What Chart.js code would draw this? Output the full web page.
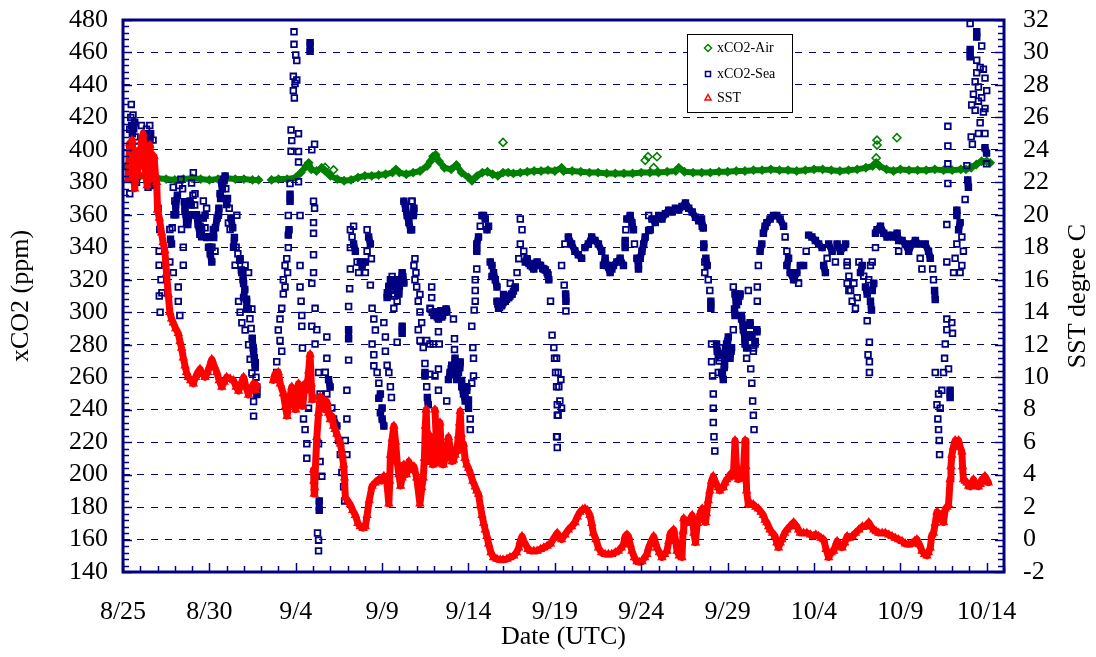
<!DOCTYPE html>
<html>
<head>
<meta charset="utf-8">
<script src="https://cdn.jsdelivr.net/npm/chart.js@4.4.1/dist/chart.umd.min.js"></script>
<style>
  html, body { margin: 0; padding: 0; background: #fff; overflow: hidden; }
  canvas { display: block; }
</style>
</head>
<body>
<canvas id="c" width="1096" height="657"></canvas>
<script>
// ---------- DATA (x = days since 8/25 00:00 UTC) ----------
const TICK_DAYS   = [0, 5, 10, 15, 20, 25, 30, 35, 40, 45, 50];
const TICK_LABELS = ['8/25','8/30','9/4','9/9','9/14','9/19','9/24','9/29','10/4','10/9','10/14'];

// xCO2-Air (ppm)
const AIR = [
  [0.2,390],[0.5,386],[1.0,384],[1.5,383],[2.0,382.5],[2.5,382],[3.0,381.5],[3.5,382],[4.0,382.5],[4.5,382],
  [5.0,381.5],[5.5,382],[6.0,382.5],[6.5,382],[7.0,382],[7.5,381.5],[7.85,381.5],
  [8.6,381.5],[9.0,382],[9.5,382],[10.0,383],[10.3,386],[10.6,390],[10.75,392],[10.9,388],[11.2,387],[11.5,389],
  [11.7,387],[12.0,384],[12.4,382],[12.8,381],[13.2,381.5],[13.6,383],[14.0,384],[14.4,384],[14.8,384.5],
  [15.2,385],[15.6,386],[15.8,388],[16.0,386],[16.4,385],[16.8,386],[17.2,387],[17.6,390],[17.8,393],[17.95,396],
  [18.1,397],[18.3,393],[18.6,389],[19.0,388],[19.3,390.7],[19.6,386],[20.0,383],[20.2,381],[20.5,384],
  [20.8,386],[21.1,386.5],[21.4,385],[21.7,384],[22.0,386],[22.3,386],[22.6,385.5],[23.0,386],[23.4,386.5],
  [23.8,387],[24.2,387],[24.6,387.5],[25.0,387],[25.39,389],[25.5,387],[26.0,387],[26.5,386.5],[27.0,386],
  [27.5,386],[28.0,385.5],[28.5,385.5],[29.0,385.5],[29.5,385.5],[30.0,386],[30.5,386],[31.0,386],[31.5,386.5],
  [32.0,387],[32.17,389],[32.5,386.5],[33.0,386],[33.5,386],[34.0,386],[34.5,386.5],[35.0,386.5],[35.5,387],
  [36.0,387],[36.5,387.5],[37.0,387.5],[37.5,388],[38.0,387.5],[38.5,387.5],[39.0,387],[39.5,387.5],[40.0,388],
  [40.5,388],[41.0,387.5],[41.5,387],[42.0,387.5],[42.5,388],[43.0,389],[43.4,390],[43.6,392],[43.8,390],
  [44.2,388],[44.6,387],[45.0,388],[45.5,387.5],[46.0,387.5],[46.5,387.5],[47.0,388],[47.5,387.5],[48.0,387.5],
  [48.5,388],[48.8,388],[49.1,389],[49.4,391],[49.7,393],[50.0,393],[50.2,392]
];
// isolated xCO2-Air readings
const AIR_OUTLIERS = [
  [11.7,389.2],[12.19,387.7],[22.0,404.6],[30.23,393.6],[30.39,395.8],[30.91,395.8],[30.72,389],
  [43.65,406],[43.65,403],[43.6,395],[44.8,407.5]
];

// xCO2-Sea (ppm)
const SEA = [
  [0.39,373],[0.39,412.7],[0.48,428],[0.54,410],[0.58,421.5],[0.68,417],[0.78,380],[0.9,395],[1.07,415],[1.2,408],
  [1.36,412.7],[1.45,377],[1.55,415],[1.56,406],[1.65,382],[1.74,406],[1.7,378],
  [0.45,420],[0.5,415],[0.62,413],[0.7,408],[0.85,402],[0.95,398],[1.1,405],[1.25,410],[1.3,404],[1.45,400],[1.6,410],
  [2.03,364],[2.09,337.6],[2.09,329],[2.13,351],[2.15,300],[2.1,310],[2.2,320],[2.25,312],[2.71,351],[2.71,331],
  [2.81,342],[2.91,377],[2.91,324.4],[3.0,368.5],[3.05,360],[3.2,315.5],[3.2,306.7],[3.29,298],[3.39,351],
  [3.49,340],[3.49,329],[3.59,362],[3.68,355],[3.88,368.5],[3.97,379.6],[4.07,386],[4.17,373],[4.26,359.7],
  [4.46,353],[4.55,346.5],[4.65,368.5],[4.75,359.7],[4.84,364],[4.88,346.5],[5.04,340],[5.14,331],[5.23,351],
  [5.33,337.6],[5.52,359.7],[5.62,373],[5.72,379.6],[5.81,382],[5.91,384],[6.0,366.3],[6.1,355],[6.2,351],
  [6.4,340],[6.49,329],[6.59,359.7],[6.69,306.7],[6.78,333],[6.78,300],[6.88,324.4],[6.88,293.5],[6.98,317.7],
  [6.98,309],[7.07,329],[7.07,289],[7.17,302],[7.27,324.4],[7.27,280],[7.36,271],[7.46,302],[7.46,262.6],
  [7.56,275.8],[7.56,245],[7.56,236],[7.66,269],[7.75,249.3],
  [2.75,345],[2.85,352],[2.95,360],[3.05,366],[3.15,372],[3.25,378],[3.35,382],[3.45,376],[3.55,368],[3.65,360],
  [3.75,354],[3.85,360],[3.95,366],[4.05,372],[4.15,366],[4.25,360],[4.35,354],[4.45,348],[4.55,352],[4.65,358],
  [4.75,352],[4.85,346],[4.95,340],[5.05,336],[5.15,340],[5.25,346],[5.35,352],[5.45,358],[5.55,364],[5.65,370],
  [5.75,376],[5.85,381],[5.95,376],[6.05,370],[6.15,364],[6.25,358],[6.35,352],[6.45,346],[6.55,340],[6.65,336],
  [6.75,332],[6.85,326],[6.95,320],[7.05,314],[7.15,308],[7.25,302],[7.35,296],[7.42,290],[7.48,284],[7.54,278],
  [7.6,272],[7.65,266],[7.7,260],[7.75,254],
  [8.9,269.5],[8.9,262.9],[8.99,289],[9.09,295.8],[9.19,302.4],[9.28,311.2],[9.09,282.6],[9.19,276],[9.28,320],
  [9.38,328.8],[9.48,333],[9.57,339.8],[9.38,315.6],[9.53,324.4],[9.57,359.6],[9.61,350.8],[9.57,347.5],
  [9.67,379.3],[9.67,372.7],[9.67,368.4],[9.73,412.3],[9.77,405.7],[9.73,399.1],[10.16,410],[10.16,399],
  [10.16,392.5],[9.86,445.3],[9.96,440.9],[9.86,436.5],[10.06,443],[9.92,432],[9.9,472.7],[9.9,465],[10.0,458.5],
  [10.06,455],[10.16,380.4],[10.25,359.6],[10.25,315.6],[10.31,306.8],[10.35,298],[10.35,291.4],[10.39,278],
  [10.25,328.8],[10.45,234.3],[10.54,227.7],[10.64,219],[10.64,210],[10.74,240.9],[10.83,466],[10.83,460.7],
  [10.93,400],[11.09,403.5],[11.03,368.4],[11.09,364],[11.03,355.2],[11.03,348.6],[11.03,335.4],[11.03,324.4],
  [10.93,317.8],[11.12,302.4],[11.22,289.2],[11.12,280.4],[10.93,291.4],[11.32,262.9],[11.41,249.7],[11.61,243],
  [11.8,249.7],[11.99,254],[12.09,241],[12.19,234.3],[11.8,284.8],[11.8,271.6],[11.71,263],[11.9,258.5],
  [11.32,219],[11.41,208],[11.51,199],[11.36,183.7],[11.36,178],[11.26,164],[11.32,159.6],[11.32,153],
  [12.38,229.9],[12.48,221],[12.58,212.3],[12.67,201.3],[12.77,192.5],[12.83,183.7],[12.87,221],[12.96,212.3],
  [12.96,251.9],[12.96,234.3],[13.06,303.5],[13.06,289.2],[13.06,283.7],[13.06,270.5],[13.12,314.5],[13.16,326.6],
  [13.16,350.8],[13.26,346.4],[13.35,353],[13.35,342],[13.45,337.6],[13.55,331],[13.64,324.4],[13.16,339.8],
  [13.74,331],[13.84,328.8],[14.03,331],[14.03,324.4],[14.13,350.8],[14.22,346.4],[14.32,342],[14.13,337.6],
  [14.38,333],[14.32,316.7],[14.42,302.4],[14.52,295.8],[14.61,289],[14.42,280.4],[14.52,273.8],[14.52,267],
  [14.71,262.9],[14.81,256.3],[14.9,249.7],[15.0,241],[15.0,234.3],[15.1,229.9],[14.81,247],[14.9,238],
  [15.1,293.6],[15.19,284.8],[15.19,276],[15.29,267.3],[15.39,262.9],[15.48,254.1],[15.54,247.5],[15.29,309],
  [15.39,315.6],[15.48,320],[15.58,311.2],[15.68,302.4],[15.77,320],[15.87,315.6],[15.97,311.2],[16.07,320],
  [16.16,324.4],[16.26,318],[15.87,306.8],[15.58,322],[15.87,281.5],[16.16,291.4],[16.16,287],[16.26,368.4],
  [16.36,364],[16.45,359.6],[16.55,355.2],[16.65,350.8],[16.74,368.4],[16.84,364],[16.65,359.6],[16.84,328.8],
  [16.9,320],
  [15.3,312],[15.4,316],[15.5,318],[15.6,314],[15.7,310],[15.8,316],[15.9,312],[16.0,316],[16.1,320],[16.2,322],
  [16.71,368.4],[16.8,359.6],[16.71,350.8],[16.9,333],[16.96,324.4],[17.0,315.6],[17.09,306.8],[17.19,300.2],
  [17.29,293.6],[17.09,289.2],[17.19,282.6],[17.38,278.2],[17.48,268.4],[17.19,311],[17.48,260.7],[17.58,254.1],
  [17.62,247.5],[17.67,243],[17.77,302.4],[17.87,315.6],[17.87,309],[18.06,300.2],[18.16,298],[18.26,295.8],
  [18.35,300.2],[18.45,297],[18.55,300.2],[18.74,300.2],[19.13,295.8],[18.26,288],[17.58,282.6],[17.77,280.4],
  [17.96,280.4],[18.31,280.4],[17.48,262.9],[17.77,261.8],[18.06,260.7],[18.26,265],[18.26,251.9],[18.74,245.3],
  [18.93,262.9],[18.84,258.5],[19.03,267.3],[19.13,262.9],[19.22,271.6],[19.32,258.5],[19.42,262.9],[19.52,269.4],
  [19.61,254.1],[19.71,249.7],[19.81,245.3],[19.9,254.1],[20.0,240.9],[20.1,234.3],[20.1,227.7],[20.19,256.3],
  [20.29,260.7],[19.19,283.7],[19.19,277],[20.19,291.4],[20.25,278.2],[20.29,271.6],[20.39,320],[20.39,313.4],
  [17.8,302],[17.9,300],[18.0,298],[18.1,300],[18.2,297],[18.3,299],[18.4,301],[18.5,298],[18.6,300],[18.7,302],
  [19.0,265],[19.1,262],[19.2,266],[19.3,261],[19.4,264],[19.5,266],[19.6,258],[19.7,252],[19.8,248],[19.9,252],[20.0,246],
  [20.39,306.8],[20.33,301.3],[20.48,326.6],[20.48,337.6],[20.58,346.4],[20.68,353],[20.78,359.6],[20.87,359.6],
  [20.97,357.4],[21.07,350.8],[21.16,353],[20.48,342],[21.26,331],[21.36,328.8],[21.45,324.4],[21.55,320],
  [21.36,322],[21.65,315.6],[21.65,306.8],[21.74,302.4],[21.94,304.6],[22.13,306.8],[22.33,309],[22.52,311.2],
  [22.71,315.6],[22.03,311],[22.42,317.8],[23.0,357.4],[23.1,350.8],[23.0,342],[23.2,337.6],[22.91,333],
  [21.7,305],[21.8,303],[21.9,304],[22.0,306],[22.1,307],[22.2,308],[22.3,309],[22.4,310],[22.5,311],[22.6,313],[22.7,315],
  [22.81,324.4],[23.29,331],[23.39,333],[23.59,328.8],[23.78,326.6],[23.97,331],[24.17,328.8],[24.36,326.6],
  [23.4,332],[23.5,330],[23.7,328],[23.9,330],[24.0,329],[24.1,329],[24.3,327],[24.45,326],[24.6,323],
  [24.55,324.4],[24.65,320],[24.75,306.8],[24.84,285.9],[24.94,278.2],[24.98,271.6],[25.04,262.9],[25.1,254.1],
  [25.14,243],[25.14,236.5],[25.14,223.3],[25.14,216.7],
  [25.1,271.6],[25.19,262.9],[25.23,254.1],[25.29,245.3],[25.19,236.5],[25.1,223.3],[25.39,240.9],[25.35,258.5],
  [25.54,316.7],[25.62,311.2],[25.64,306.8],[25.64,300.7],[25.39,328.8],[25.58,342],[25.78,346.4],[25.97,342],
  [26.16,337.6],[26.36,335.4],[26.55,333.2],[26.74,339.8],[26.94,342],[27.13,346.4],[27.32,344.2],[27.52,342],
  [27.71,337.6],[27.91,333.2],[27.81,329],[28.0,328.8],[28.2,324.4],[28.39,328.8],[28.59,331],[28.78,333.2],
  [28.97,328.8],[28.3,326.6],[29.07,339.8],[29.11,350.8],[29.17,357.4],[29.36,359.6],[29.46,355.2],[29.55,350.8],
  [29.07,344.2],[29.61,342],[29.75,333.2],[29.84,328.8],[29.94,333.2],[30.04,337.6],[30.14,342],[30.23,346.4],
  [29.84,326.6],[30.43,359.6],[30.52,350.8],[30.43,350.3],[30.62,357.4],[30.81,355.2],[31.01,359.6],[31.2,357.4],
  [31.4,360.7],[31.59,362.9],[31.78,361.8],[31.98,364],[32.17,362.9],[32.36,365.1],[32.56,367.3],[32.75,364],
  [32.95,361.8],[33.14,358.5],[33.33,356.3],[33.53,353],[33.62,339.8],[33.68,331],[33.68,324.4],
  [33.49,357.4],[33.59,351.9],[33.62,342],[33.74,333.2],[33.82,328.8],[33.88,320],[33.97,313.4],[34.03,306.8],
  [34.03,302.4],[34.07,280.4],[34.07,269.5],[34.13,260.7],[34.17,249.7],[34.17,240.9],[34.17,232.1],[34.21,223.3],
  [34.26,214.5],[34.36,280.4],[34.46,273.8],[34.55,278.2],[34.65,262.9],[34.75,258.5],[34.84,271.6],[34.94,280.4],
  [35.04,284.8],[35.14,271.6],[35.23,278.2],[34.46,262.9],[35.33,315.6],[35.33,289.2],[35.43,298],[35.52,304.6],
  [34.4,276],[34.5,270],[34.6,272],[34.7,262],[34.8,266],[34.9,276],[35.0,282],[35.1,276],[35.2,276],
  [35.4,302],[35.5,306],[35.6,308],[35.7,310],[35.8,298],[35.9,292],[36.0,284],[36.1,278],[36.2,286],[36.3,292],
  [36.4,286],[36.5,278],[36.6,282],[36.7,288],
  [35.62,306.8],[35.72,311.2],[35.43,311.2],[35.81,295.8],[35.91,289.2],[36.01,280.4],[36.1,271.6],[36.2,284.8],
  [36.3,293.6],[36.39,284.8],[36.49,276],[36.69,289.2],[36.59,280.4],[36.2,313.4],[36.72,315.6],[36.72,306.8],
  [36.34,265.1],[36.4,256.3],[36.45,245.3],[36.49,236.5],[36.53,227.7],[36.78,328.8],[36.88,337.6],[36.98,342],
  [37.07,348.6],[37.17,353],[37.27,355.2],[37.46,357.4],[37.66,359.6],[37.85,359.6],[38.04,357.4],[38.24,353],
  [38.33,346.4],[38.43,337.6],[38.43,328.8],[38.53,333.2],[38.62,324.4],[38.82,320],[39.01,324.4],[39.21,328.8],
  [39.11,317.8],[39.4,328.8],[39.55,337.6],[39.69,347.5],[39.88,346.4],[40.08,344.2],[40.27,342],[40.47,339.8],
  [40.56,328.8],[40.76,333.2],[40.85,342],[41.05,337.6],[41.24,331],[41.34,342],[41.53,337.6],[41.72,339.8],
  [41.92,328.8],[41.92,317.8],[42.02,313.4],[40.66,324.4],
  [41.83,342],[41.92,331],[42.02,322.2],[42.12,313.4],[42.21,306.8],[42.4,302.4],[42.31,317.8],[42.5,309],
  [42.6,331],[42.69,324.4],[42.79,328.8],[42.88,322.2],[42.98,315.6],[43.08,311.2],[43.17,320],[43.27,328.8],
  [43.37,331],[43.46,317.8],[43.37,313.4],[43.27,306.8],[43.33,301.3],[43.08,294.7],[43.21,281.5],[43.13,273.8],
  [43.21,269.5],[43.21,262.9],[43.56,339.8],[43.56,348.6],[43.65,350.8],[43.85,353],[44.04,348.6],[44.23,346.4],
  [44.42,347.5],[44.62,346.4],[44.81,348.6],[44.9,344.2],[44.9,337.6],[45.1,344.2],[45.29,342],[45.48,337.6],
  [45.67,342],[45.87,344.2],[46.06,342],[46.15,333.2],[46.25,326.6],[46.44,342],[46.63,337.6],[46.73,333.2],
  [46.87,326.6],[46.92,320],[46.98,313.4],[47.02,307.9],[47.02,262.9],[47.12,243],[47.17,234.3],[47.21,227.7],
  [47.25,221],[47.27,212.3],[47.31,240.9],[47.4,251.9],[47.5,262.9],[47.56,271.6],[47.6,280.4],[47.69,289.2],
  [47.69,295.8],[47.79,265.1],[47.88,251.9],[47.88,247.5],[47.98,293.6],[48.02,287],[47.21,249.7],[47.69,331],
  [47.69,354],[47.75,379.3],[47.75,391.4],[47.75,402.4],[47.75,414.5],[48.08,324.4],[48.17,333.2],[48.27,342],
  [48.37,350.8],[48.27,359.6],[48.46,355.2],[48.56,346.4],[48.65,337.6],[48.56,328.8],[48.27,362.9],[48.46,324.4],
  [48.75,369.5],[48.85,390.3],[48.9,381.5],[48.94,377],[49.1,408],[49.17,403.5],[49.04,477.8],[49.42,472.7],
  [49.42,469.5],[49.71,464],[49.04,461.8],[49.04,457.4],[49.42,455.2],[49.62,450.8],[49.81,449.7],[49.9,444.2],
  [49.33,442],[49.23,434.3],[49.52,438.7],[49.71,432.1],[49.9,425.5],[49.33,424.4],[49.62,416.7],[49.52,410.1],
  [49.9,410.1],[49.9,401.3],[49.99,398],[49.99,391.4],[49.81,423.3],[50.0,436.5],[49.52,430],[49.13,427.7],
  [49.42,447.5]
];

// SST (degree C)
const SST = [
  [0.30,22.2],[0.38,24.4],[0.45,23.0],[0.52,24.6],[0.60,22.6],[0.68,21.6],[0.76,23.4],[0.84,22.4],[0.92,24.0],
  [1.00,23.0],[1.08,24.6],[1.16,25.0],[1.24,23.6],[1.32,22.4],[1.40,21.8],[1.48,23.2],[1.56,24.3],[1.64,23.0],
  [1.72,22.2],[1.80,23.6],[1.88,22.4],[1.95,22.0],
  [2.00,20.3],[2.1,19.8],[2.23,18.9],[2.32,18.3],[2.42,17.8],[2.52,16.4],[2.62,15.1],[2.71,14.0],[2.81,13.6],
  [2.91,13.35],[3.05,13.0],[3.2,12.7],[3.3,12.2],[3.39,11.8],[3.49,11.2],[3.59,10.7],[3.68,10.3],[3.78,10.0],
  [3.92,9.8],[4.07,9.6],[4.2,10.0],[4.33,10.3],[4.46,10.5],[4.6,10.2],[4.75,10.0],[4.9,10.3],[5.02,10.7],
  [5.14,11.1],[5.28,10.7],[5.43,10.3],[5.57,9.8],[5.72,9.4],[5.86,9.7],[6.0,10.0],[6.2,9.9],[6.4,9.8],
  [6.55,9.4],[6.69,9.15],[6.84,9.6],[6.98,10.0],[7.12,9.4],[7.27,8.9],[7.42,9.3],[7.56,9.6],[7.66,9.2],[7.75,9.5],
  [8.70,9.8],[8.8,10.2],[8.99,10.3],[9.1,9.6],[9.28,9.0],[9.4,8.2],[9.5,7.6],[9.6,8.4],[9.77,9.4],[9.9,8.6],
  [10.0,8.0],[10.16,9.6],[10.3,8.8],[10.4,8.2],[10.54,9.6],[10.65,9.2],[10.75,10.4],[10.83,11.4],[10.9,9.6],
  [10.95,8.6],[11.0,8.8],[11.03,4.3],[11.05,3.6],[11.07,2.8],[11.1,3.2],[11.12,4.0],[11.22,6.3],[11.32,7.8],
  [11.41,8.8],[11.5,8.2],[11.6,8.6],[11.7,8.0],[11.8,8.5],[11.9,7.8],[12.0,7.4],[12.1,7.6],[12.19,7.0],
  [12.28,6.8],[12.38,6.5],[12.48,6.2],[12.58,5.9],[12.68,5.3],[12.77,4.6],[12.82,3.8],[12.87,2.6],[13.0,2.4],
  [13.16,2.15],[13.3,1.8],[13.45,1.5],[13.6,1.0],[13.74,0.8],[13.9,0.7],[14.03,0.8],[14.13,1.5],[14.25,2.4],
  [14.42,3.3],[14.6,3.5],[14.81,3.7],[14.95,3.6],[15.1,3.9],[15.25,3.8],[15.39,2.2],[15.44,3.6],[15.48,5.2],
  [15.58,6.2],[15.68,7.0],[15.78,6.0],[15.87,4.8],[15.97,4.0],[16.07,3.3],[16.16,3.8],[16.26,4.6],[16.4,4.0],
  [16.55,4.8],[16.7,4.3],[16.84,4.5],
  [17.0,3.8],[17.19,2.2],[17.3,3.2],[17.38,3.8],[17.45,5.0],[17.5,7.0],[17.55,8.0],[17.62,6.0],[17.7,4.8],
  [17.77,6.4],[17.85,5.2],[17.95,4.6],[18.06,8.0],[18.12,6.5],[18.2,5.0],[18.3,4.7],[18.35,7.2],[18.42,5.5],
  [18.55,4.6],[18.65,5.0],[18.75,5.4],[18.84,6.3],[18.95,5.6],[19.05,4.8],[19.13,4.9],[19.22,5.2],[19.32,5.45],
  [19.42,6.4],[19.48,7.2],[19.52,7.9],[19.58,6.5],[19.65,5.5],[19.71,5.9],[19.8,5.0],[19.9,4.6],[20.0,4.4],
  [20.1,4.1],[20.25,3.6],[20.39,3.25],[20.48,3.0],[20.58,2.8],[20.68,2.1],[20.78,1.5],[20.88,1.0],[20.97,0.6],
  [21.07,0.2],[21.16,-0.26],[21.3,-0.8],[21.45,-1.1],[21.65,-1.2],[21.84,-1.25],[22.0,-1.25],[22.23,-1.2],
  [22.4,-1.1],[22.62,-1.0],[22.78,-0.8],[22.91,-0.5],[23.0,-0.1],[23.1,0.2],[23.2,-0.1],[23.29,-0.26],
  [23.45,-0.6],[23.59,-0.7],[23.78,-0.7],[23.97,-0.7],[24.17,-0.6],[24.36,-0.5],[24.55,-0.4],[24.75,-0.26],
  [24.95,0.1],[25.14,0.4],
  [25.25,0.2],[25.39,0.0],[25.58,0.3],[25.78,0.6],[25.97,0.8],[26.16,1.05],[26.3,1.4],[26.45,1.7],[26.6,1.85],
  [26.74,1.9],[26.88,1.8],[27.03,1.5],[27.13,1.0],[27.23,0.4],[27.38,0.0],[27.52,-0.5],[27.7,-0.8],[27.91,-0.9],
  [28.1,-0.9],[28.29,-0.9],[28.5,-0.8],[28.68,-0.7],[28.85,-0.5],[28.97,-0.3],[29.07,0.2],[29.17,0.3],[29.26,0.2],
  [29.36,-0.3],[29.46,-0.7],[29.6,-1.1],[29.75,-1.36],[29.9,-1.4],[30.04,-1.36],[30.2,-1.1],[30.33,-0.9],
  [30.43,-0.5],[30.52,-0.26],[30.62,0.0],[30.72,0.2],[30.82,-0.2],[30.91,-0.5],[31.05,-0.8],[31.2,-1.1],
  [31.35,-0.9],[31.49,-0.7],[31.6,-0.1],[31.69,0.4],[31.8,0.5],[31.88,0.6],[31.98,0.0],[32.07,-0.7],[32.2,-1.0],
  [32.36,-1.1],[32.42,0.5],[32.46,1.3],[32.6,1.0],[32.75,1.1],[32.85,1.3],[32.95,1.5],[33.05,0.4],[33.14,-0.2],
  [33.24,1.0],[33.33,1.2],[33.43,1.7],[33.53,1.9],[33.62,1.3],
  [33.72,1.05],[33.78,1.6],[33.88,2.4],[33.97,3.0],[34.07,3.6],[34.17,3.9],[34.27,3.6],[34.36,3.4],[34.46,3.2],
  [34.55,3.0],[34.65,3.2],[34.75,3.2],[34.85,3.5],[34.94,3.7],[35.04,3.8],[35.14,4.0],[35.24,3.9],[35.33,3.9],
  [35.43,6.1],[35.5,4.6],[35.62,3.7],[35.72,4.0],[35.81,3.8],[35.91,4.1],[36.01,6.1],[36.06,4.5],[36.1,3.0],
  [36.2,2.15],[36.35,2.2],[36.49,2.15],[36.63,2.0],[36.78,1.9],[36.93,1.7],[37.07,1.5],[37.17,1.2],[37.27,1.05],
  [37.37,0.8],[37.46,0.6],[37.6,0.4],[37.75,0.2],[37.85,-0.2],[37.95,-0.5],[38.05,-0.2],[38.14,0.0],[38.3,0.4],
  [38.43,0.6],[38.6,0.8],[38.82,1.05],[38.92,0.9],[39.01,0.8],[39.11,0.6],[39.21,0.4],[39.4,0.4],[39.59,0.4],
  [39.8,0.3],[39.98,0.2],[40.1,0.3],[40.27,0.2],[40.4,0.1],[40.56,0.0],[40.7,-0.6],[40.85,-1.1],[41.0,-0.8],
  [41.14,-0.7],[41.24,-0.4],[41.34,-0.1],[41.5,-0.3],[41.63,-0.5],[41.78,-0.2],[41.92,0.2],[42.05,0.1],
  [42.21,0.2],[42.4,0.4],[42.6,0.6],[42.8,0.8],[42.98,0.8],[43.17,1.05],[43.3,0.8],[43.46,0.6],[43.6,0.5],
  [43.75,0.4],[43.95,0.4],[44.13,0.4],[44.33,0.3],[44.52,0.2],[44.7,0.1],[44.9,0.0],[45.1,-0.1],[45.29,-0.26],
  [45.48,-0.3],[45.67,-0.26],[45.82,-0.1],[45.96,0.0],[46.1,-0.3],[46.25,-0.7],[46.4,-0.9],[46.54,-1.0],
  [46.63,-0.8],[46.73,-0.5],[46.83,0.3],[46.92,0.4],[47.02,1.0],[47.12,1.7],[47.21,1.6],[47.31,1.5],[47.4,1.2],
  [47.5,1.05],[47.6,1.9],[47.7,2.0],[47.79,2.15],[47.88,3.7],[47.93,4.5],[47.98,5.2],[48.07,5.7],[48.17,6.1],
  [48.27,6.0],[48.37,6.1],[48.46,5.7],[48.56,5.4],[48.6,4.5],[48.65,3.7],[48.75,3.6],[48.85,3.5],[48.95,3.3],
  [49.04,3.25],[49.14,3.5],[49.23,3.7],[49.33,3.5],[49.42,3.3],[49.52,3.25],[49.62,3.4],[49.71,3.7],[49.8,3.6],
  [49.9,3.9],[50.0,3.7],[50.1,3.5]
];

// ---------- STYLE ----------
const NAVY = '#000080', GREEN = '#008000', RED = '#ff0000';
const SERIF = '"Liberation Serif", "Times New Roman", Times, serif';
const toXY = arr => arr.map(p => ({ x: p[0], y: p[1] }));
const byX = arr => arr.slice().sort((a, b) => a[0] - b[0]);
// draw joining segment only between close consecutive readings (dense runs look solid)
const segRule = (dx, dy) => ({
  borderColor: c => (Math.abs(c.p1.parsed.x - c.p0.parsed.x) <= dx &&
                     Math.abs(c.p1.parsed.y - c.p0.parsed.y) <= dy) ? undefined : 'rgba(0,0,0,0)'
});

const decor = {
  id: 'decor',
  afterDraw(chart) {
    const { ctx, chartArea: a, scales } = chart;
    ctx.save();
    ctx.strokeStyle = NAVY;
    ctx.lineWidth = 1.5;
    const seg = (x1, y1, x2, y2) => { ctx.beginPath(); ctx.moveTo(x1, y1); ctx.lineTo(x2, y2); ctx.stroke(); };
    for (let d = 0; d <= 51; d++) {
      const px = Math.round(scales.x.getPixelForValue(d)) + 0.5;
      seg(px, a.bottom, px, a.bottom - (d % 5 === 0 ? 9 : 6));
    }
    for (let i = 0; i <= 85; i++) {
      const v = 140 + i * 4;
      const py = Math.round(scales.y.getPixelForValue(v)) + 0.5;
      seg(a.left, py, a.left + (i % 5 === 0 ? 9 : 6), py);
    }
    for (let i = 0; i <= 85; i++) {
      const v = -2 + i * 0.4;
      const py = Math.round(scales.y2.getPixelForValue(v)) + 0.5;
      seg(a.right, py, a.right - (i % 5 === 0 ? 9 : 6), py);
    }
    ctx.lineWidth = 3;
    ctx.strokeRect(a.left, a.top, a.right - a.left, a.bottom - a.top);

    // right axis title (reads bottom-to-top)
    ctx.fillStyle = '#000';
    ctx.font = '26px ' + SERIF;
    ctx.textAlign = 'center';
    ctx.textBaseline = 'middle';
    ctx.save();
    ctx.translate(1078, (a.top + a.bottom) / 2);
    ctx.rotate(-Math.PI / 2);
    ctx.fillText('SST degree C', 0, 0);
    ctx.restore();

    // legend box
    const bx = 687, by = 34, bw = 105, bh = 78;
    ctx.fillStyle = '#fff';
    ctx.fillRect(bx, by, bw, bh);
    ctx.lineWidth = 1;
    ctx.strokeStyle = '#000';
    ctx.strokeRect(bx + 0.5, by + 0.5, bw, bh);
    const mx = 708;
    ctx.lineWidth = 1.5;
    ctx.strokeStyle = GREEN;
    ctx.beginPath(); ctx.moveTo(mx, 44.5); ctx.lineTo(mx + 3.5, 48); ctx.lineTo(mx, 51.5); ctx.lineTo(mx - 3.5, 48); ctx.closePath(); ctx.stroke();
    ctx.strokeStyle = NAVY;
    ctx.strokeRect(mx - 2.5, 71.5, 5, 5);
    ctx.strokeStyle = RED;
    ctx.beginPath(); ctx.moveTo(mx, 94.5); ctx.lineTo(mx + 3, 100); ctx.lineTo(mx - 3, 100); ctx.closePath(); ctx.stroke();
    ctx.fillStyle = '#000';
    ctx.font = '14px ' + SERIF;
    ctx.textAlign = 'left';
    ctx.fillText('xCO2-Air', 717, 48);
    ctx.fillText('xCO2-Sea', 717, 74);
    ctx.fillText('SST', 717, 98);
    ctx.restore();
  }
};

const tickFont = { family: SERIF, size: 26 };
const noVPad = s => { s.paddingTop = 0; s.paddingBottom = 0; };

new Chart(document.getElementById('c'), {
  type: 'scatter',
  data: {
    datasets: [
      {
        label: 'xCO2-Air', data: toXY(AIR), yAxisID: 'y', order: 4,
        showLine: true, borderColor: GREEN, borderWidth: 6, tension: 0,
        borderJoinStyle: 'round', borderCapStyle: 'round',
        segment: segRule(0.6, 7),
        pointStyle: 'rectRot', pointRadius: 3.8, pointBorderWidth: 1.6,
        pointBorderColor: GREEN, pointBackgroundColor: 'rgba(0,0,0,0)'
      },
      {
        label: 'xCO2-Air', data: toXY(AIR_OUTLIERS), yAxisID: 'y', order: 3,
        showLine: false,
        pointStyle: 'rectRot', pointRadius: 4, pointBorderWidth: 1.6,
        pointBorderColor: GREEN, pointBackgroundColor: 'rgba(0,0,0,0)'
      },
      {
        label: 'xCO2-Sea', data: toXY(byX(SEA)), yAxisID: 'y', order: 2,
        showLine: true, borderColor: NAVY, borderWidth: 7, tension: 0,
        borderJoinStyle: 'round', borderCapStyle: 'round',
        segment: segRule(0.22, 6),
        pointStyle: 'rect', pointRadius: 4, pointBorderWidth: 1.8,
        pointBorderColor: NAVY, pointBackgroundColor: 'rgba(0,0,0,0)'
      },
      {
        label: 'SST', data: toXY(SST), yAxisID: 'y2', order: 1,
        showLine: true, borderColor: RED, borderWidth: 7, tension: 0,
        borderJoinStyle: 'round', borderCapStyle: 'round',
        segment: segRule(0.4, 2.6),
        pointStyle: 'triangle', pointRadius: 4, pointBorderWidth: 1.5,
        pointBorderColor: RED, pointBackgroundColor: RED
      }
    ]
  },
  options: {
    responsive: false,
    animation: false,
    events: [],
    layout: { padding: { top: 20, left: 0, right: 0, bottom: 0 } },
    plugins: { legend: { display: false }, tooltip: { enabled: false } },
    scales: {
      x: {
        type: 'linear', position: 'bottom', min: 0, max: 51,
        afterBuildTicks: s => { s.ticks = TICK_DAYS.map(v => ({ value: v })); },
        afterFit: s => { s.height = 85; s.paddingLeft = 0; s.paddingRight = 0; },
        grid: { display: false, drawTicks: false },
        border: { display: false },
        ticks: {
          autoSkip: false, maxRotation: 0, minRotation: 0, padding: 25,
          color: '#000', font: tickFont,
          callback: (v, i) => TICK_LABELS[i]
        },
        title: { display: true, text: 'Date (UTC)', color: '#000', font: tickFont, padding: { top: 0, bottom: 4 } }
      },
      y: {
        position: 'left', min: 140, max: 480,
        afterFit: s => { s.width = 123; noVPad(s); },
        ticks: { stepSize: 20, autoSkip: false, padding: 15, color: '#000', font: tickFont },
        grid: {
          drawTicks: false, lineWidth: 1,
          color: c => (c.tick && (c.tick.value === 140 || c.tick.value === 480)) ? 'rgba(0,0,0,0)' : NAVY
        },
        border: { display: false, dash: [7, 7] },
        title: { display: true, text: 'xCO2 (ppm)', color: '#000', font: tickFont, padding: { top: 6, bottom: 0 } }
      },
      y2: {
        position: 'right', min: -2, max: 32,
        afterFit: s => { s.width = 92; noVPad(s); },
        ticks: { stepSize: 2, autoSkip: false, padding: 19, color: '#000', font: tickFont },
        grid: { display: false, drawTicks: false },
        border: { display: false }
      }
    }
  },
  plugins: [decor]
});
</script>
</body>
</html>
